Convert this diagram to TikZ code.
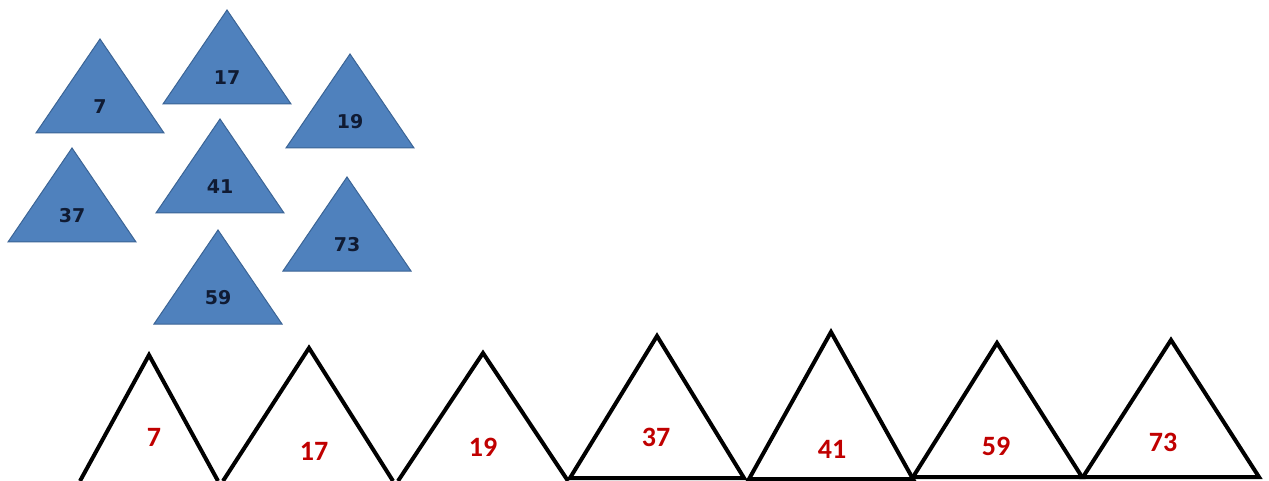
\documentclass[tikz,border=0pt]{standalone}
\usepackage{fontspec}
\usepackage{xcolor}
\usetikzlibrary{calc}
\newfontfamily\cardfont{DejaVu Sans}
\newfontfamily\slotfont{Carlito}
\definecolor{cardblue}{HTML}{4F81BD}
\definecolor{cardedge}{HTML}{3B6495}
\definecolor{cardtext}{HTML}{101B33}
\definecolor{slotred}{HTML}{C00000}

\begin{document}
\begin{tikzpicture}[x=1pt, y=-1pt,
  card/.style={fill=cardblue, draw=cardedge, line width=1pt, line join=miter},
  cardnum/.style={font=\cardfont\bfseries\fontsize{19}{19}\selectfont,
                  text=cardtext, inner sep=0pt},
  slot/.style={draw=black, line width=4pt, line join=miter},
  slotnum/.style={font=\slotfont\bfseries\fontsize{28}{28}\selectfont,
                  text=slotred, inner sep=0pt},
]
\useasboundingbox (0,0) rectangle (1269,481);

% loose blue cards
\foreach \n/\x/\y in {7/100/39, 17/227/10, 19/350/54, 37/72/148,
                      41/220/119, 73/347/177, 59/218/230}{
  \draw[card] (\x,\y) -- ++(64,94) -- ++(-128,0) -- cycle;
  \node[cardnum] (card\n) at (\x,\y+68) {\n};
}

% open slots (bottom cut off)
\foreach \n/\ax/\ay/\l/\r/\tx/\ty in {7/149/355/80/218/154/437,
    17/309/348/223/393/314/451, 19/483/353/398/568/483/447}{
  \draw[slot] (\l,481) -- (\ax,\ay) -- (\r,481);
  \node[slotnum] (slot\n) at (\tx,\ty) {\n};
}

% closed slots
\foreach \n/\ax/\ay/\l/\r/\b/\tx/\ty in {37/657/336/570/744/478/656/437,
    41/831/332/749/913/479/832/449, 59/997/343/913/1082/477/996/446,
    73/1171/340/1083/1259/477/1163/442}{
  \draw[slot] (\l,\b) -- (\ax,\ay) -- (\r,\b) -- cycle;
  \node[slotnum] (slot\n) at (\tx,\ty) {\n};
}
\end{tikzpicture}
\end{document}
